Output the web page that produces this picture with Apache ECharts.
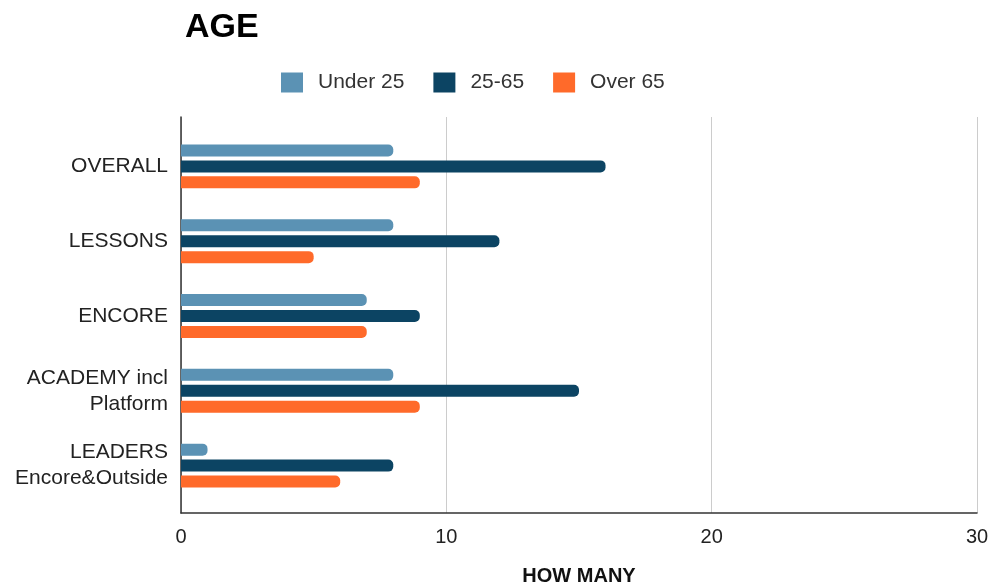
<!DOCTYPE html>
<html>
<head>
<meta charset="utf-8">
<script src="https://cdn.jsdelivr.net/npm/echarts@6/dist/echarts.min.js"></script>
<style>
  html, body { margin: 0; padding: 0; background: #fff; }
  #chart { width: 992px; height: 585px; }
</style>
</head>
<body>
<div id="chart"></div>
<script>
// Participants by age group for each programme
const categories = ['OVERALL', 'LESSONS', 'ENCORE', 'ACADEMY incl\nPlatform', 'LEADERS\nEncore&Outside'];
const under25 = [8, 8, 7, 8, 1];
const age25to65 = [16, 12, 9, 15, 8];
const over65 = [9, 5, 7, 9, 6];
const xTicks = { min: 0, max: 30, interval: 10 };

const FONT = '"Liberation Sans", Arial, sans-serif';
const chart = echarts.init(document.getElementById('chart'), null, { renderer: 'canvas' });

const barStyle = (color) => ({ color: color, borderRadius: [0, 5, 5, 0] });

chart.setOption({
  backgroundColor: '#ffffff',
  animation: false,
  textStyle: { fontFamily: FONT },
  title: {
    text: 'AGE',
    left: 180,
    top: 6,
    textStyle: { fontSize: 34, fontWeight: 'bold', color: '#000', fontFamily: FONT }
  },
  legend: {
    top: 67,
    left: 276,
    itemWidth: 22,
    itemHeight: 20,
    itemGap: 29,
    icon: 'rect',
    textStyle: { fontSize: 21, color: '#333', fontFamily: FONT, padding: [0, 0, 0, 10] },
    data: ['Under 25', '25-65', 'Over 65']
  },
  grid: [
    // frame: value axis, gridlines and the vertical axis line
    { left: 181, right: 15, top: 117, bottom: 72, outerBoundsMode: 'none', containLabel: false },
    // bars
    { left: 181, right: 15, top: 129, bottom: 82, outerBoundsMode: 'none', containLabel: false }
  ],
  xAxis: [
    {
      gridIndex: 0,
      type: 'value',
      min: xTicks.min, max: xTicks.max, interval: xTicks.interval,
      name: 'HOW MANY',
      nameLocation: 'middle',
      nameGap: 53,
      nameTextStyle: { fontSize: 20, fontWeight: 'bold', color: '#111', fontFamily: FONT },
      axisLine: { show: true, lineStyle: { color: '#333', width: 1.5 } },
      axisTick: { show: false },
      axisLabel: { fontSize: 20, color: '#222', margin: 14, fontFamily: FONT },
      splitLine: { show: true, lineStyle: { color: '#cccccc', width: 1 } }
    },
    {
      gridIndex: 1,
      type: 'value',
      min: xTicks.min, max: xTicks.max,
      show: false
    }
  ],
  yAxis: [
    {
      gridIndex: 0,
      type: 'value',
      axisLine: { show: true, onZero: false, lineStyle: { color: '#333', width: 1.5 } },
      axisTick: { show: false },
      axisLabel: { show: false },
      splitLine: { show: false }
    },
    {
      gridIndex: 1,
      type: 'category',
      inverse: true,
      data: categories,
      axisLine: { show: false },
      axisTick: { show: false },
      axisLabel: { fontSize: 21, color: '#222', margin: 13, lineHeight: 26, fontFamily: FONT, align: 'right' }
    }
  ],
  series: [
    {
      name: 'Under 25', type: 'bar', xAxisIndex: 1, yAxisIndex: 1,
      data: under25, barWidth: 12, barGap: '33%',
      itemStyle: barStyle('#5b92b4')
    },
    {
      name: '25-65', type: 'bar', xAxisIndex: 1, yAxisIndex: 1,
      data: age25to65, barWidth: 12, barGap: '33%',
      itemStyle: barStyle('#0c4463')
    },
    {
      name: 'Over 65', type: 'bar', xAxisIndex: 1, yAxisIndex: 1,
      data: over65, barWidth: 12, barGap: '33%',
      itemStyle: barStyle('#ff6a2a')
    }
  ]
});
</script>
</body>
</html>
